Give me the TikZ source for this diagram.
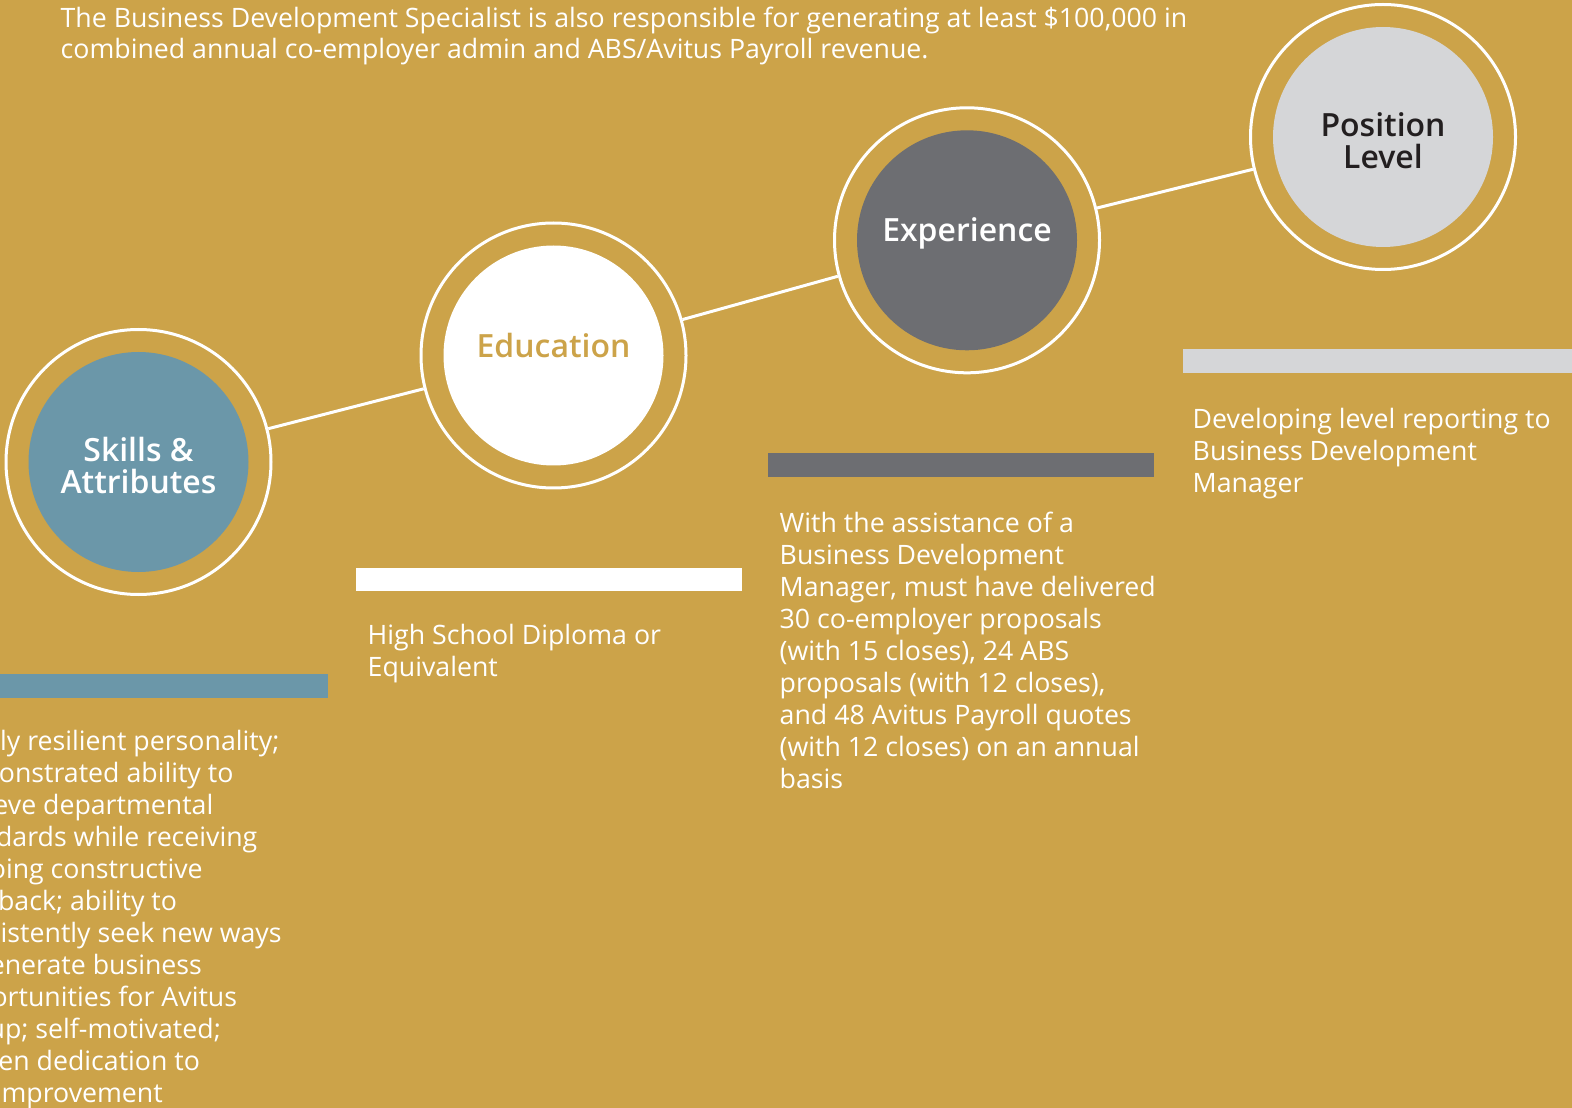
\documentclass[tikz,border=0pt]{standalone}
\usepackage{fontspec}
\setmainfont{Open Sans}
\newfontfamily\capfont{Open Sans Semibold}

\definecolor{gold}{RGB}{204,163,73}
\definecolor{steel}{RGB}{107,151,169}
\definecolor{slate}{RGB}{109,110,114}
\definecolor{mist}{RGB}{213,214,216}
\definecolor{ink}{RGB}{35,31,32}

\begin{document}
\begin{tikzpicture}
  [x=0.1mm,y=-0.1mm,
   ring/.style={circle,draw=white,line width=0.3mm,minimum size=26.5mm,inner sep=0},
   disk/.style={circle,minimum size=22mm,inner sep=0},
   caption/.style={anchor=base,inner sep=0,align=center,
     font=\fontsize{9.1}{9.1}\selectfont\capfont},
   body/.style={anchor=base west,inner sep=0,align=left,text=white,
     font=\fontsize{7.6}{9.1}\selectfont}]
  \useasboundingbox (0,0) rectangle (1572,1108);
  \fill[gold] (0,0) rectangle (1572,1108);
  \clip (0,0) rectangle (1572,1108);

  % base anchor sits on the last line
  \node[body] (note) at (60,59) {The Business Development Specialist is also responsible for generating at least \$100,000 in\\combined annual co-employer admin and ABS/Avitus Payroll revenue.};

  % rings and discs
  \node[ring] (skills) at (138.5,462) {};
  \node[ring] (edu) at (553.5,355.5) {};
  \node[ring] (exp) at (967,240.3) {};
  \node[ring] (pos) at (1383,137) {};
  \node[disk,fill=steel] (skills-in) at (skills) {};
  \node[disk,fill=white] (edu-in) at (edu) {};
  \node[disk,fill=slate] (exp-in) at (exp) {};
  \node[disk,fill=mist] (pos-in) at (pos) {};

  \node[caption,text=white,yshift=-3.15mm] (skills-cap) at (skills-in) {Skills \&\\Attributes};
  \node[caption,text=gold,yshift=-0.17mm] (edu-cap) at (edu-in) {Education};
  \node[caption,text=white,yshift=-0.17mm] (exp-cap) at (exp-in) {Experience};
  \node[caption,text=ink,yshift=-3.15mm] (pos-cap) at (pos-in) {Position\\Level};

  \path[-,draw=white,line width=0.3mm]
    (skills) edge (edu)
    (edu) edge (exp)
    (exp) edge (pos);

  % bars
  \fill[steel] (-58,674) rectangle (328,698);
  \fill[white] (356,568) rectangle (742,591);
  \fill[slate] (768,453) rectangle (1154,477);
  \fill[mist] (1183,349) rectangle (1572,373);

  % texts under the bars
  \node[body] (skills-txt) at (-58,1102) {Highly resilient personality;\\demonstrated ability to\\achieve departmental\\standards while receiving\\ongoing constructive\\feedback; ability to\\consistently seek new ways\\to generate business\\opportunities for Avitus\\Group; self-motivated;\\proven dedication to\\self-improvement};
  \node[body] (edu-txt) at (367,676) {High School Diploma or\\Equivalent};
  \node[body] (exp-txt) at (779,788) {With the assistance of a\\Business Development\\Manager, must have delivered\\30 co-employer proposals\\(with 15 closes), 24 ABS\\proposals (with 12 closes),\\and 48 Avitus Payroll quotes\\(with 12 closes) on an annual\\basis};
  \node[body] (pos-txt) at (1192,492) {Developing level reporting to\\Business Development\\Manager};
\end{tikzpicture}
\end{document}
